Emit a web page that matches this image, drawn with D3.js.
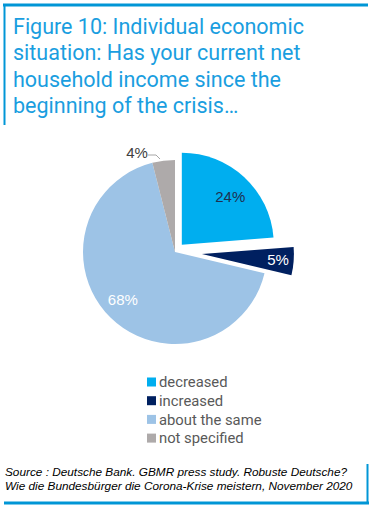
<!DOCTYPE html>
<html><head><meta charset="utf-8">
<script src="https://cdn.jsdelivr.net/npm/d3@7"></script>
<style>
html,body{margin:0;padding:0;background:#fff;}
svg{display:block;}
</style></head>
<body>
<svg id="chart" width="374" height="511"></svg>
<script>
const categories = ["decreased", "increased", "about the same", "not specified"];
const values = [24, 5, 68, 4];
const valueLabels = ["24%", "5%", "68%", "4%"];
const colors = ["#00aeef", "#002060", "#9dc3e6", "#aeaaaa"];
const titleLines = ["Figure 10: Individual economic", "situation: Has your current net", "household income since the", "beginning of the crisis…"];
const sourceLines = ["Source : Deutsche Bank. GBMR press study. Robuste Deutsche?", "Wie die Bundesbürger die Corona-Krise meistern, November 2020"];

const svg = d3.select("#chart");
const blue = "#0096d6";

// frame
svg.append("line").attr("x1",3).attr("x2",368).attr("y1",5).attr("y2",5).attr("stroke",blue).attr("stroke-width",3);
svg.append("line").attr("x1",4.5).attr("x2",4.5).attr("y1",4).attr("y2",125).attr("stroke",blue).attr("stroke-width",2);
svg.append("line").attr("x1",4).attr("x2",369).attr("y1",503).attr("y2",503).attr("stroke",blue).attr("stroke-width",3);
svg.append("line").attr("x1",367.5).attr("x2",367.5).attr("y1",464).attr("y2",504).attr("stroke",blue).attr("stroke-width",2);

// title
svg.append("g").selectAll("text").data(titleLines).join("text")
  .attr("x",13).attr("y",(d,i)=>34+i*26.3)
  .attr("font-family","Roboto, 'Liberation Sans', sans-serif")
  .attr("font-size",21.5).attr("fill","#1a9ee0").text(d=>d);

// pie
const cx = 175, cy = 252, r = 92;
const pie = d3.pie().sort(null).value(d=>d)(values);
const arc = d3.arc().innerRadius(0).outerRadius(r);
const offsets = [10, 27, 0, 0];
const g = svg.append("g").attr("transform",`translate(${cx},${cy})`);
g.selectAll("path").data(pie).join("path")
  .attr("d",arc)
  .attr("fill",(d,i)=>colors[i])
  .attr("transform",(d,i)=>{
    const a=(d.startAngle+d.endAngle)/2;
    return `translate(${Math.sin(a)*offsets[i]},${-Math.cos(a)*offsets[i]})`;
  });

// labels
const labelPos = [
  {r:0.74, da:0.04, color:"#1f2f4f"},
  {r:0.83, da:0, color:"#ffffff"},
  {r:0.77, da:0.05, color:"#ffffff"},
  {r:1.12, da:0, color:"#404040"}
];
pie.forEach((d,i)=>{
  const a=(d.startAngle+d.endAngle)/2 + labelPos[i].da;
  const rr = labelPos[i].r*r + offsets[i];
  let x=Math.sin(a)*rr, y=-Math.cos(a)*rr;
  if(i===3){ x=-38; y=-99; }
  g.append("text").attr("x",x).attr("y",y).attr("dy","0.35em")
   .attr("text-anchor","middle")
   .attr("font-family","'Liberation Sans', Arial, sans-serif")
   .attr("font-size",15).attr("fill",labelPos[i].color).text(valueLabels[i]);
});
// leader line for 4%
g.append("path").attr("d","M-27,-97 L-19,-97 L-15,-93").attr("fill","none").attr("stroke","#a6a6a6").attr("stroke-width",1);

// legend
const lg = svg.append("g").attr("transform","translate(147,382)");
const rows = lg.selectAll("g").data(categories).join("g").attr("transform",(d,i)=>`translate(0,${i*18.7})`);
rows.append("rect").attr("x",0).attr("y",-4.5).attr("width",9).attr("height",9).attr("fill",(d,i)=>colors[i]);
rows.append("text").attr("x",12).attr("y",0).attr("dy","0.35em")
  .attr("font-family","Roboto, 'Liberation Sans', sans-serif")
  .attr("font-size",14.8).attr("fill","#595959").text(d=>d);

// source
svg.append("g").selectAll("text").data(sourceLines).join("text")
  .attr("x",5).attr("y",(d,i)=>476+i*13.5)
  .attr("font-family","'Liberation Sans', Arial, sans-serif")
  .attr("font-style","italic").attr("font-size",11.8).attr("fill","#000").text(d=>d);
</script>
</body></html>
